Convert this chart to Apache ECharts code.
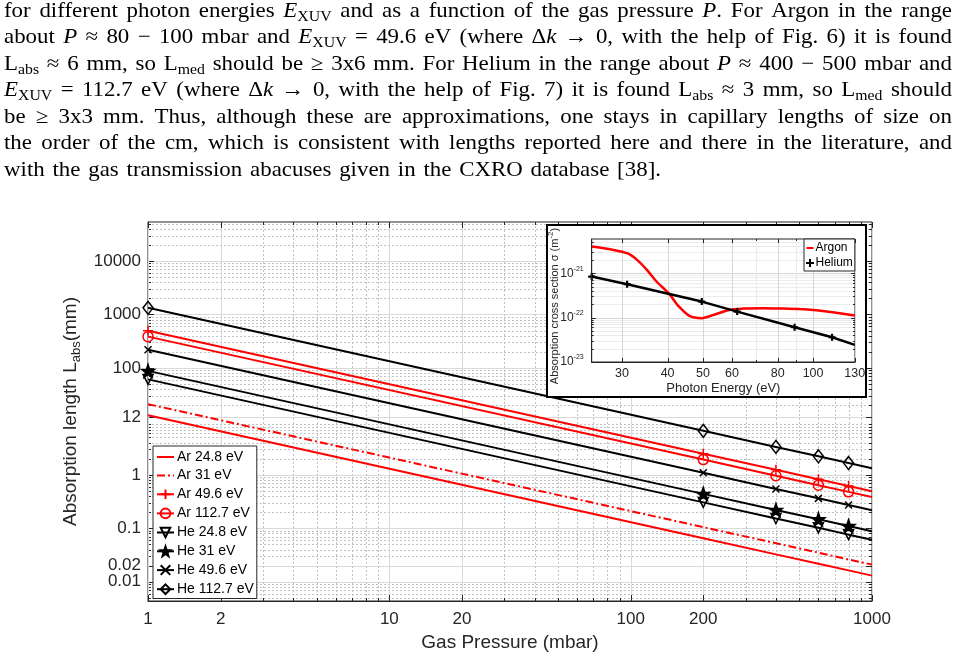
<!DOCTYPE html>
<html><head><meta charset="utf-8">
<script src="https://cdn.jsdelivr.net/npm/echarts@6/dist/echarts.min.js"></script>
<style>html,body{margin:0;padding:0;background:#fff}#c{width:959px;height:662px}</style>
</head><body><div id="c"></div>
<script>
// ================= DATA =================
const pressure = [1, 200, 400, 600, 800, 1000];
const seriesNames = ['Ar 24.8 eV', 'Ar 31 eV', 'Ar 49.6 eV', 'Ar 112.7 eV', 'He 24.8 eV', 'He 31 eV', 'He 49.6 eV', 'He 112.7 eV'];
const arL_24_8  = [13, 0.065, 0.0325, 0.0217, 0.0163, 0.013];
const arL_31    = [21, 0.105, 0.0525, 0.035, 0.026, 0.021];
const arL_49_6  = [495, 2.48, 1.24, 0.83, 0.62, 0.495];
const arL_112_7 = [385, 1.93, 0.96, 0.64, 0.48, 0.385];
const heL_24_8  = [61, 0.305, 0.152, 0.102, 0.076, 0.061];
const heL_31    = [88, 0.44, 0.22, 0.147, 0.11, 0.088];
const heL_49_6  = [218, 1.09, 0.545, 0.363, 0.273, 0.218];
const heL_112_7 = [1330, 6.65, 3.33, 2.22, 1.66, 1.33];
const yTickValues = [0.01, 0.02, 0.1, 1, 12, 100, 1000, 10000];
const yTickValuesA = [0.01, 0.1, 1, 12, 100, 1000, 10000];   // drawn by the main left axis
const yTickValuesB = [0.02];                                  // drawn by a twin left axis (too close to 0.01 to share one)
const xTickValues = [1, 2, 10, 20, 100, 200, 1000];

// inset: absorption cross section
const insetNames = ['Argon', 'Helium'];
const argonEnergy = [24.8, 28.45, 31, 33, 35.1, 37.3, 40.4, 42.8, 45.9, 49.6, 53.5, 58.2, 64.6, 73.2, 83.1, 94.4, 111.7, 130];
const argonSigma  = [3.98e-21, 3.35e-21, 2.82e-21, 2.0e-21, 1.19e-21, 6.5e-22, 3.41e-22, 1.83e-22, 1.09e-22, 9.7e-23, 1.15e-22, 1.44e-22, 1.59e-22, 1.63e-22, 1.59e-22, 1.54e-22, 1.34e-22, 1.11e-22];
const heliumEnergy = [24.8, 31, 49.6, 62, 89, 112.7, 130];
const heliumSigma  = [8.4e-22, 5.65e-22, 2.29e-22, 1.36e-22, 6.05e-23, 3.6e-23, 2.42e-23];
const insetXTickValues = [30, 40, 50, 60, 80, 100, 130];
const insetYTickValues = [1e-23, 1e-22, 1e-21];

// paragraph above the figure
const paragraphLines = [
  'for different photon energies *E*_{XUV} and as a function of the gas pressure *P*. For Argon in the range',
  'about *P* ≈ 80 − 100 mbar and *E*_{XUV} = 49.6 eV (where Δ*k* → 0, with the help of Fig. 6) it is found',
  'L_{abs} ≈ 6 mm, so L_{med} should be ≥ 3x6 mm. For Helium in the range about *P* ≈ 400 − 500 mbar and',
  '*E*_{XUV} = 112.7 eV (where Δ*k* → 0, with the help of Fig. 7) it is found L_{abs} ≈ 3 mm, so L_{med} should',
  'be ≥ 3x3 mm. Thus, although these are approximations, one stays in capillary lengths of size on',
  'the order of the cm, which is consistent with lengths reported here and there in the literature, and',
  'with the gas transmission abacuses given in the CXRO database [38].'
];

// ================= STYLE / HELPERS =================
const RED = '#ff0000', BLK = '#000000', AXC = '#262626';
const SANS = '"Liberation Sans", Arial, sans-serif';
const SERIF = '"Liberation Serif", "Times New Roman", serif';
const PLUS = 'path://M0,-5L0,5M-5,0L5,0';
const CROSS = 'path://M-5,-5L5,5M-5,5L5,-5';
const STAR = 'path://M0,-10L2.35,-3.24L9.51,-3.09L3.8,1.24L5.88,8.09L0,4L-5.88,8.09L-3.8,1.24L-9.51,-3.09L-2.35,-3.24Z';

function logGridValues(minV, maxV, mults, exclude) {
  const out = [];
  for (let e = -25; e <= 6; e++) {
    for (const m of mults) {
      const v = +(m * Math.pow(10, e)).toPrecision(6);
      if (v > minV && v < maxV && !exclude.some(x => Math.abs(x - v) / v < 1e-6)) out.push(v);
    }
  }
  return out;
}

function hRender(majLen, minLen, majColor, minColor, minDash) {
  return function (params, api) {
    const cs = params.coordSys;
    const maj = api.value(2) === 1;
    const y = Math.round(api.coord([api.value(0), api.value(1)])[1]) + 0.5;
    const x0 = cs.x, x1 = cs.x + cs.width, tl = maj ? majLen : minLen;
    return { type: 'group', children: [
      { type: 'line', shape: { x1: x0, y1: y, x2: x1, y2: y }, style: { stroke: maj ? majColor : minColor, lineWidth: 1, lineDash: (!maj && minDash) ? [2, 2] : null } },
      { type: 'line', shape: { x1: x0, y1: y, x2: x0 + tl, y2: y }, style: { stroke: AXC, lineWidth: 1 } },
      { type: 'line', shape: { x1: x1 - tl, y1: y, x2: x1, y2: y }, style: { stroke: AXC, lineWidth: 1 } }
    ] };
  };
}
function vRender(majLen, minLen, majColor, minColor, minDash) {
  return function (params, api) {
    const cs = params.coordSys;
    const maj = api.value(2) === 1;
    const x = Math.round(api.coord([api.value(0), api.value(1)])[0]) + 0.5;
    const y0 = cs.y, y1 = cs.y + cs.height, tl = maj ? majLen : minLen;
    return { type: 'group', children: [
      { type: 'line', shape: { x1: x, y1: y0, x2: x, y2: y1 }, style: { stroke: maj ? majColor : minColor, lineWidth: 1, lineDash: (!maj && minDash) ? [2, 2] : null } },
      { type: 'line', shape: { x1: x, y1: y1, x2: x, y2: y1 - tl }, style: { stroke: AXC, lineWidth: 1 } },
      { type: 'line', shape: { x1: x, y1: y0, x2: x, y2: y0 + tl }, style: { stroke: AXC, lineWidth: 1 } }
    ] };
  };
}

// ================= AXIS RANGES =================
const MAIN_X = [0.9995, 1000.5], MAIN_Y = [0.00436, 53700];
const INS_X = [24.8, 130.2], INS_Y = [0.995e-23, 5.9e-21];

const mainH = yTickValues.map(v => [2, v, 1]).concat(logGridValues(MAIN_Y[0], MAIN_Y[1], [2,3,4,5,6,7,8,9], yTickValues).map(v => [2, v, 0]));
const mainV = xTickValues.map(v => [v, 1, 1]).concat(logGridValues(MAIN_X[0], MAIN_X[1], [2,3,4,5,6,7,8,9], xTickValues).map(v => [v, 1, 0]));
const insH = insetYTickValues.map(v => [50, v, 1]).concat(logGridValues(INS_Y[0], INS_Y[1], [2,3,4,5,6,7,8,9], insetYTickValues).map(v => [50, v, 0]));
const insV = insetXTickValues.map(v => [v, 1e-22, 1]).concat(logGridValues(INS_X[0], INS_X[1], [2,3,4,5,6,7,8,9], insetXTickValues).map(v => [v, 1e-22, 0]));

// ================= MAIN SERIES =================
const mainDefs = [
  { name: seriesNames[0], vals: arL_24_8,  color: RED, symbol: 'none' },
  { name: seriesNames[1], vals: arL_31,    color: RED, symbol: 'none', dash: [8, 3, 2, 3] },
  { name: seriesNames[2], vals: arL_49_6,  color: RED, symbol: PLUS, size: 10 },
  { name: seriesNames[3], vals: arL_112_7, color: RED, symbol: 'circle', size: 10 },
  { name: seriesNames[4], vals: heL_24_8,  color: BLK, symbol: 'triangle', size: 10, rotate: 180 },
  { name: seriesNames[5], vals: heL_31,    color: BLK, symbol: STAR, size: 13, fill: BLK },
  { name: seriesNames[6], vals: heL_49_6,  color: BLK, symbol: CROSS, size: 7 },
  { name: seriesNames[7], vals: heL_112_7, color: BLK, symbol: 'diamond', size: [10, 13] }
];
function mainSeries(d) {
  const noSym = d.symbol === 'none';
  return {
    type: 'line', name: d.name, xAxisIndex: 0, yAxisIndex: 0, z: 3,
    data: pressure.map((p, i) => i === pressure.length - 1 ? { value: [p, d.vals[i]], symbol: 'none' } : [p, d.vals[i]]),
    symbol: d.symbol, symbolSize: d.size || 8, symbolRotate: d.rotate || 0,
    showSymbol: !noSym, showAllSymbol: true,
    lineStyle: { color: d.color, width: 2, type: d.dash || 'solid' },
    itemStyle: noSym ? { color: 'none', borderColor: 'none', borderWidth: 0, opacity: 0 }
                     : { color: d.fill || 'none', borderColor: d.color, borderWidth: 1.5 },
    emphasis: { disabled: true }, silent: true, animation: false
  };
}

// ================= PARAGRAPH =================
const measureCtx = document.createElement('canvas').getContext('2d');
const PF = 21, PSUB = 14.5, PX0 = 4, PX1 = 952, PY0 = 17.5, PDY = 26.5, SPACE_EM = 0.34;
function segFont(s) { return (s.it ? 'italic ' : '') + (s.sub ? PSUB : PF) + 'px ' + SERIF; }
function parseWord(w) {
  const segs = []; let it = false, sub = false, buf = '';
  const flush = () => { if (buf) segs.push({ t: buf, it, sub }); buf = ''; };
  for (let i = 0; i < w.length; i++) {
    const ch = w[i];
    if (ch === '*') { flush(); it = !it; }
    else if (ch === '_' && w[i + 1] === '{') { flush(); sub = true; i++; }
    else if (ch === '}' && sub) { flush(); sub = false; }
    else buf += ch;
  }
  flush();
  segs.forEach(s => { measureCtx.font = segFont(s); s.w0 = measureCtx.measureText(s.t).width; });
  return segs;
}
const paraWords = paragraphLines.map(line => line.split(' ').filter(Boolean).map(parseWord));
let PSX = 10;
paraWords.forEach((words, li) => {
  if (li === paraWords.length - 1) return;
  const tot = words.reduce((a, ws) => a + ws.reduce((b, s) => b + s.w0, 0), 0);
  PSX = Math.min(PSX, (PX1 - PX0) / (tot + (words.length - 1) * SPACE_EM * PF));
});
const paraElements = [];
paraWords.forEach((words, li) => {
  const widths = words.map(ws => ws.reduce((a, s) => a + s.w0 * PSX, 0));
  const total = widths.reduce((a, b) => a + b, 0);
  const last = li === paraWords.length - 1;
  const gap = last ? SPACE_EM * PF * PSX : (PX1 - PX0 - total) / (words.length - 1);
  const base = PY0 + li * PDY;
  let x = PX0;
  words.forEach(ws => {
    ws.forEach(s => {
      const fs = s.sub ? PSUB : PF;
      paraElements.push({
        type: 'text', x: x, y: base - fs * 0.3 + (s.sub ? 4 : 0), scaleX: PSX, z: 1, silent: true,
        style: { text: s.t, font: segFont(s), fill: '#000', align: 'left', textAlign: 'left', verticalAlign: 'middle', textVerticalAlign: 'middle' }
      });
      x += s.w0 * PSX;
    });
    x += gap;
  });
});

// ================= OPTION =================
const yLabelFmt = v => String(+(+v).toPrecision(6));
const mainYLabel = (vals) => ({ customValues: vals, formatter: yLabelFmt, fontSize: 17, color: AXC, margin: 7, fontFamily: SANS, hideOverlap: false, showMinLabel: true, showMaxLabel: true });
const option = {
  animation: false,
  backgroundColor: '#fff',
  textStyle: { fontFamily: SANS },
  grid: [
    { left: 148, top: 222, width: 724, height: 379, show: true, borderColor: AXC, borderWidth: 1, backgroundColor: '#fff', z: 0 },
    { left: 591.7, top: 239, width: 263.3, height: 123, show: true, borderColor: AXC, borderWidth: 1, backgroundColor: '#fff', z: 9 }
  ],
  xAxis: [
    { type: 'log', gridIndex: 0, min: MAIN_X[0], max: MAIN_X[1],
      name: 'Gas Pressure (mbar)', nameLocation: 'middle', nameGap: 32, nameMoveOverlap: false,
      nameTextStyle: { fontSize: 19, color: AXC, fontFamily: SANS },
      axisLine: { show: true, lineStyle: { color: AXC, width: 1 } }, axisTick: { show: false },
      axisLabel: { customValues: xTickValues, formatter: v => String(+(+v).toPrecision(6)), fontSize: 17, color: AXC, margin: 10, fontFamily: SANS, hideOverlap: false, showMinLabel: true, showMaxLabel: true },
      splitLine: { show: false }, minorTick: { show: false }, minorSplitLine: { show: false } },
    { type: 'log', gridIndex: 1, min: INS_X[0], max: INS_X[1], z: 13,
      name: 'Photon Energy (eV)', nameLocation: 'middle', nameGap: 20, nameMoveOverlap: false,
      nameTextStyle: { fontSize: 13, color: AXC, fontFamily: SANS },
      axisLine: { show: true, lineStyle: { color: AXC, width: 1 } }, axisTick: { show: false },
      axisLabel: { customValues: insetXTickValues, formatter: v => String(Math.round(v)), fontSize: 12.5, color: AXC, margin: 5, fontFamily: SANS, hideOverlap: false },
      splitLine: { show: false } }
  ],
  yAxis: [
    { type: 'log', gridIndex: 0, min: MAIN_Y[0], max: MAIN_Y[1],
      name: 'Absorption length L{sub|abs}(mm)', nameLocation: 'middle', nameRotate: 90, nameGap: 65, nameMoveOverlap: false,
      nameTextStyle: { fontSize: 19, color: AXC, fontFamily: SANS, rich: { sub: { fontSize: 13, color: AXC, fontFamily: SANS, padding: [12, 0, 0, 0] } } },
      axisLine: { show: true, lineStyle: { color: AXC, width: 1 } }, axisTick: { show: false },
      axisLabel: mainYLabel(yTickValuesA), splitLine: { show: false } },
    { type: 'log', gridIndex: 1, min: INS_Y[0], max: INS_Y[1], z: 13,
      name: 'Absorption cross section σ (m{sup|-2})', nameLocation: 'middle', nameRotate: 90, nameGap: 29, nameMoveOverlap: false,
      nameTextStyle: { fontSize: 11, color: AXC, fontFamily: SANS, padding: [0, 11, 0, 0], rich: { sup: { fontSize: 8, color: AXC, fontFamily: SANS, padding: [0, 0, 8, 0] } } },
      axisLine: { show: true, lineStyle: { color: AXC, width: 1 } }, axisTick: { show: false },
      axisLabel: { customValues: insetYTickValues, formatter: v => '10{sup|' + Math.round(Math.log10(v)) + '}', fontSize: 12, color: AXC, margin: 8, fontFamily: SANS, hideOverlap: false,
        rich: { sup: { fontSize: 7, color: AXC, fontFamily: SANS, padding: [0, 0, 9, 0] } } },
      splitLine: { show: false } },
    { type: 'log', gridIndex: 0, min: MAIN_Y[0], max: MAIN_Y[1], position: 'left',
      axisLine: { show: false }, axisTick: { show: false },
      axisLabel: mainYLabel(yTickValuesB), splitLine: { show: false } }
  ],
  legend: [
    { data: seriesNames, orient: 'vertical', left: 153, top: 446, padding: [4, 3, 2, 3], itemGap: 4.5,
      itemWidth: 17, itemHeight: 12, selectedMode: false, backgroundColor: '#fff', borderColor: AXC, borderWidth: 1, z: 6,
      textStyle: { fontSize: 14, lineHeight: 14, color: '#000', fontFamily: SANS, padding: [0, 0, 0, -2] } },
    { data: insetNames, orient: 'vertical', left: 804, top: 239, padding: [3, 2, 2, 1], itemGap: 3,
      itemWidth: 7, itemHeight: 10, selectedMode: false, backgroundColor: '#fff', borderColor: AXC, borderWidth: 1, z: 14,
      textStyle: { fontSize: 12, color: '#000', fontFamily: SANS, padding: [0, 0, 0, -3] } }
  ],
  graphic: { elements: paraElements.concat([
    { type: 'rect', z: 8, silent: true, shape: { x: 547, y: 225, width: 319, height: 172 }, style: { fill: '#fff', stroke: '#000', lineWidth: 2 } }
  ]) },
  series: [
    { type: 'custom', coordinateSystem: 'cartesian2d', xAxisIndex: 0, yAxisIndex: 0, z: 1, silent: true, animation: false,
      data: mainH, encode: { x: 0, y: 1 }, renderItem: hRender(6, 3, '#d9d9d9', '#c2c2c2', true) },
    { type: 'custom', coordinateSystem: 'cartesian2d', xAxisIndex: 0, yAxisIndex: 0, z: 1, silent: true, animation: false,
      data: mainV, encode: { x: 0, y: 1 }, renderItem: vRender(6, 3, '#d9d9d9', '#c2c2c2', true) },
    { type: 'custom', coordinateSystem: 'cartesian2d', xAxisIndex: 1, yAxisIndex: 1, z: 10, silent: true, animation: false,
      data: insH, encode: { x: 0, y: 1 }, renderItem: hRender(4, 2, '#d6d6d6', '#ebebeb', false) },
    { type: 'custom', coordinateSystem: 'cartesian2d', xAxisIndex: 1, yAxisIndex: 1, z: 10, silent: true, animation: false,
      data: insV, encode: { x: 0, y: 1 }, renderItem: vRender(4, 2, '#d6d6d6', '#ebebeb', false) }
  ].concat(mainDefs.map(mainSeries)).concat([
    { type: 'line', name: insetNames[0], xAxisIndex: 1, yAxisIndex: 1, z: 12, smooth: 0.25,
      data: argonEnergy.map((e, i) => [e, argonSigma[i]]), symbol: 'none', showSymbol: false,
      lineStyle: { color: RED, width: 2.5 }, itemStyle: { color: 'none', borderColor: 'none', borderWidth: 0, opacity: 0 }, emphasis: { disabled: true }, silent: true },
    { type: 'line', name: insetNames[1], xAxisIndex: 1, yAxisIndex: 1, z: 12,
      data: heliumEnergy.map((e, i) => i === heliumEnergy.length - 1 ? { value: [e, heliumSigma[i]], symbol: 'none' } : [e, heliumSigma[i]]),
      symbol: PLUS, symbolSize: 7, showAllSymbol: true,
      lineStyle: { color: BLK, width: 2.5 }, itemStyle: { color: BLK, borderColor: BLK, borderWidth: 2.2 }, emphasis: { disabled: true }, silent: true }
  ])
};

const chart = echarts.init(document.getElementById('c'), null, { renderer: 'canvas' });
chart.setOption(option);
</script>
</body></html>
